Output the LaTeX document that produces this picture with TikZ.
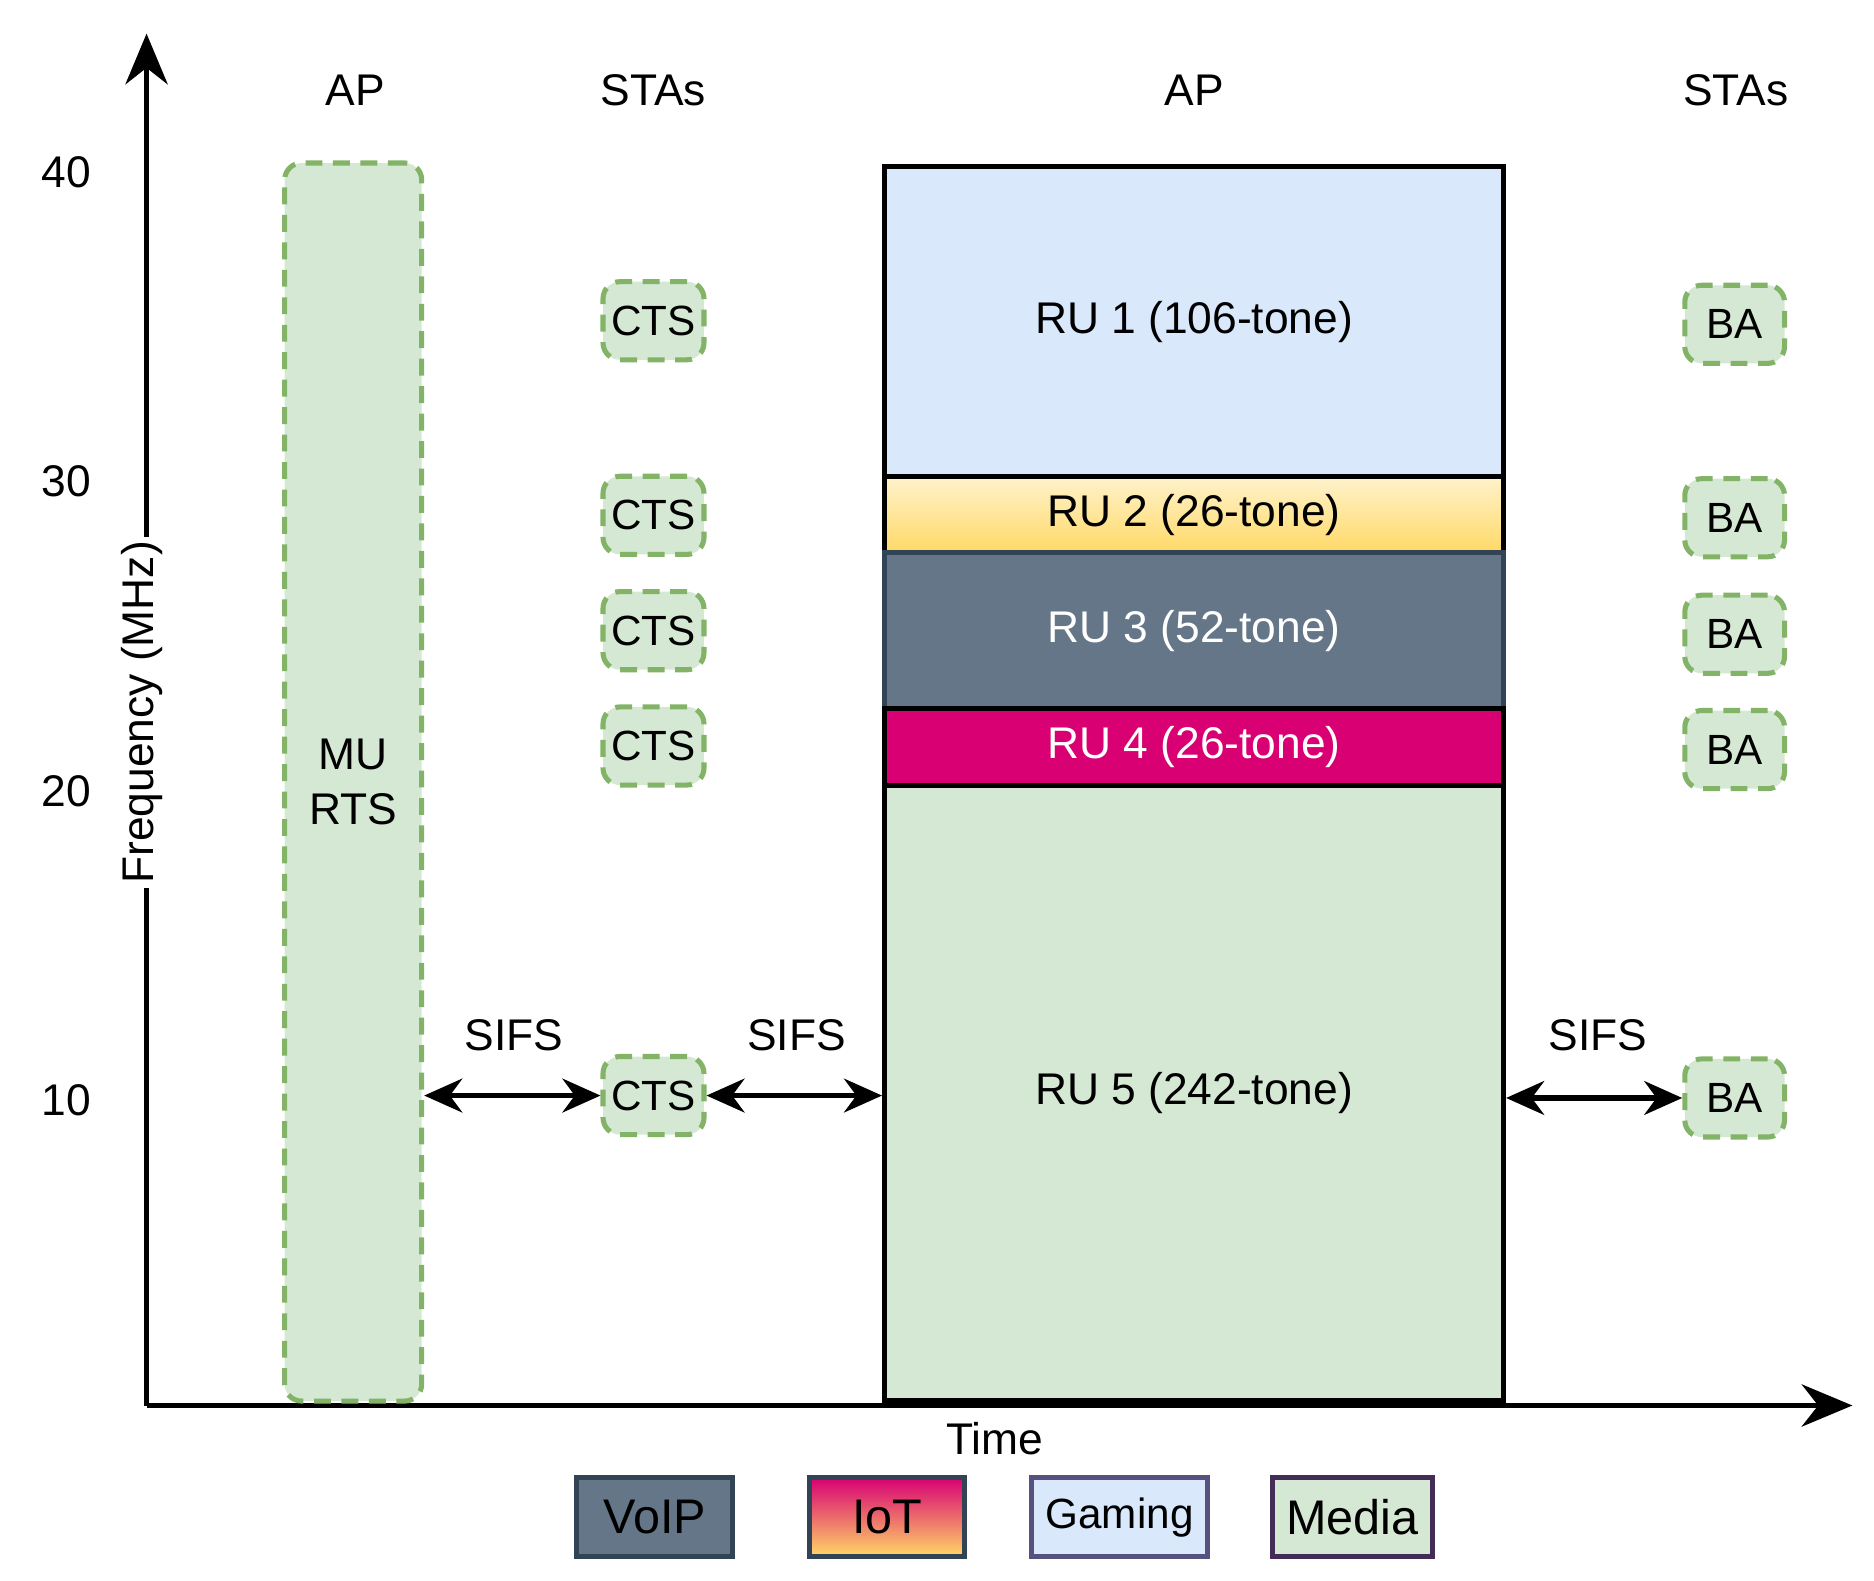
\documentclass[tikz,border=0pt]{standalone}
\usepackage{fontspec}
\setmainfont{Liberation Sans}
\usetikzlibrary{arrows.meta}
\definecolor{gfill}{HTML}{D5E8D4}
\definecolor{gline}{HTML}{82B366}
\definecolor{bfill}{HTML}{DAE8FC}
\definecolor{slate}{HTML}{647687}
\definecolor{slateD}{HTML}{314354}
\definecolor{mag}{HTML}{D80073}
\definecolor{ylw}{HTML}{FFD966}
\definecolor{ylwL}{HTML}{FFF2CC}
\definecolor{purp}{HTML}{56517E}
\definecolor{purpD}{HTML}{432D57}
\tikzset{
 dbox/.style={draw=gline,fill=gfill,dashed,dash pattern=on 4pt off 2.5pt,line width=1.2pt,rounded corners=4pt,font=\fontsize{10}{12}\selectfont},
 ru/.style={draw=black,line width=1.2pt,font=\fontsize{10.5}{12}\selectfont},
 lab/.style={font=\fontsize{10.5}{12}\selectfont},
 leg/.style={line width=1.2pt,font=\fontsize{11.5}{13}\selectfont},
 dar/.style={{Stealth[length=9pt,width=8pt]}-{Stealth[length=9pt,width=8pt]},line width=1.2pt},
}
\begin{document}
\begin{tikzpicture}[x=0.01cm,y=-0.01cm]
\useasboundingbox (0,0) rectangle (1560,1316);
% axes
\coordinate (o) at (122,1170);
\coordinate (yt) at (122,28);
\coordinate (xt) at (1542,1170);
\draw[line width=1.2pt,-{Stealth[length=12pt,width=10pt]}] (o) -- (yt);
\draw[line width=1.2pt,-{Stealth[length=12pt,width=10pt]}] (o) -- (xt);
\node[lab,fill=white,inner sep=1pt,rotate=90] (fq) at (118,593) {Frequency (MHz)};
\node[lab] (t40) at (55,143) {40};
\node[lab] (t30) at (55,401) {30};
\node[lab] (t20) at (55,659) {20};
\node[lab] (t10) at (55,916) {10};
\node[lab] (time) at (828,1198) {Time};
\node[lab] (h1) at (296,75) {AP};
\node[lab] (h2) at (544,75) {STAs};
\node[lab] (h3) at (994,75) {AP};
\node[lab] (h4) at (1445,75) {STAs};
% MU RTS
\node[dbox,minimum width=114\pgflinewidth,align=center,font=\fontsize{10.5}{13}\selectfont,inner sep=0pt] (rts) at (294,651) [minimum width=1.14cm,minimum height=10.3cm] {MU\\RTS};
% CTS
\foreach \n/\y in {1/267,2/429,3/525,4/621,5/912}
 \node[dbox,minimum width=0.84cm,minimum height=0.65cm,inner sep=0pt] (cts\n) at (544,\y) {CTS};
% BA
\foreach \n/\y in {1/270,2/431,3/528,4/624,5/914}
 \node[dbox,minimum width=0.83cm,minimum height=0.65cm,inner sep=0pt] (ba\n) at (1444,\y) {BA};
% RUs
\node[ru,fill=bfill,minimum width=5.15cm,minimum height=2.58cm] (ru1) at (994,268) {RU 1 (106-tone)};
\node[ru,top color=ylwL,bottom color=ylw,minimum width=5.15cm,minimum height=0.63cm] (ru2) at (994,428.5) {RU 2 (26-tone)};
\node[ru,draw=slateD,fill=slate,text=white,minimum width=5.15cm,minimum height=1.3cm] (ru3) at (994,525) {RU 3 (52-tone)};
\node[ru,fill=mag,text=white,minimum width=5.15cm,minimum height=0.64cm] (ru4) at (994,622) {RU 4 (26-tone)};
\node[ru,fill=gfill,minimum width=5.15cm,minimum height=5.12cm] (ru5) at (994,910) {RU 5 (242-tone)};
% SIFS arrows
\draw[dar] (rts.east |- cts5) -- (cts5.west);
\draw[dar] (cts5.east) -- (ru5.west |- cts5);
\draw[dar] (ru5.east |- ba5) -- (ba5.west);
\node[lab] (s1) at (428,862) {SIFS};
\node[lab] (s2) at (663,862) {SIFS};
\node[lab] (s3) at (1330,862) {SIFS};
% legend
\node[leg,draw=slateD,fill=slate,minimum width=1.3cm,minimum height=0.66cm] (l1) at (545,1263) {VoIP};
\node[leg,draw=slateD,top color=mag,bottom color=ylw,minimum width=1.29cm,minimum height=0.66cm] (l2) at (738.5,1263) {IoT};
\node[leg,draw=purp,fill=bfill,minimum width=1.3cm,minimum height=0.66cm,font=\fontsize{10}{12}\selectfont] (l3) at (932,1263) {Gaming};
\node[leg,draw=purpD,fill=gfill,minimum width=1.3cm,minimum height=0.66cm] (l4) at (1126,1263) {Media};
\end{tikzpicture}
\end{document}
